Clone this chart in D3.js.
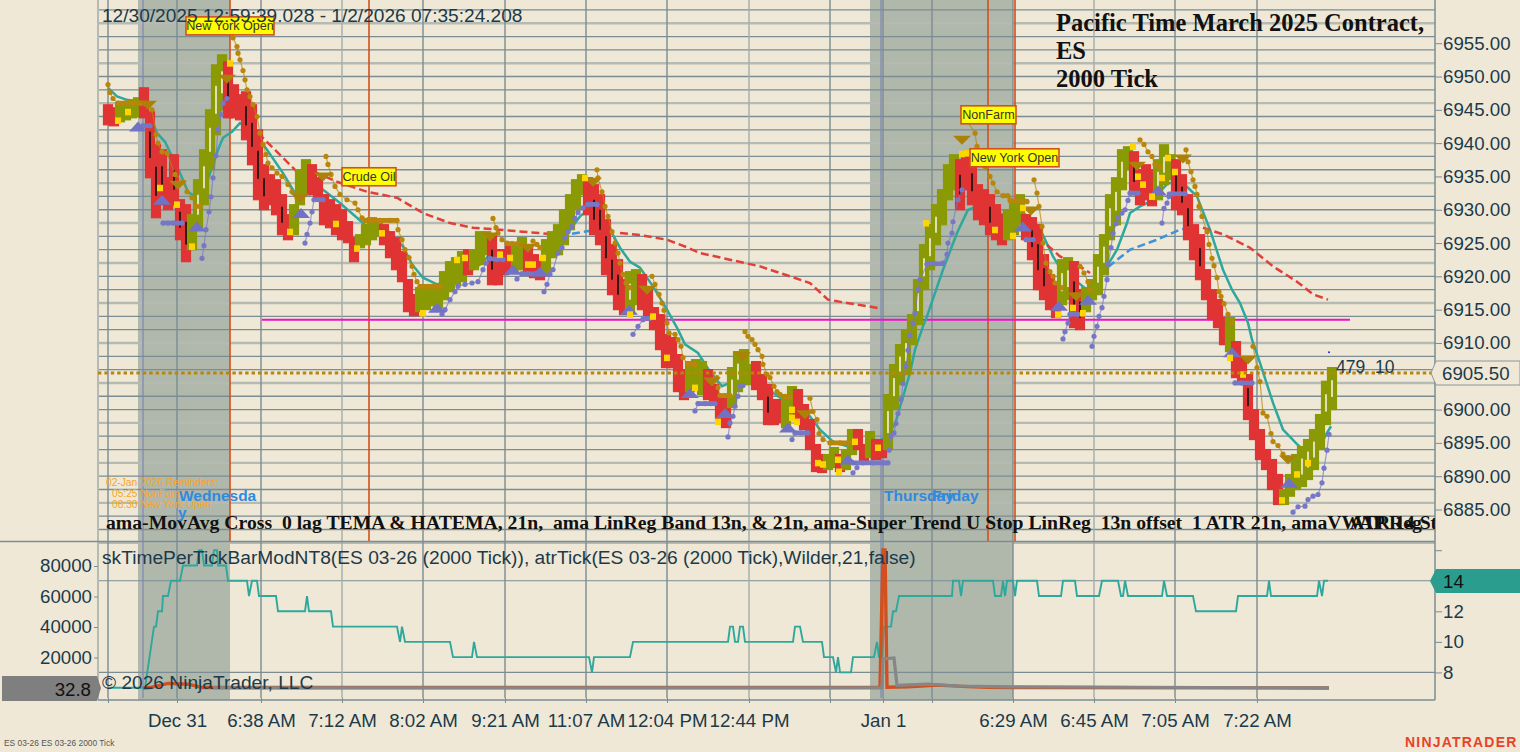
<!DOCTYPE html>
<html>
<head>
    <meta charset="utf-8">
    <style>
        html, body { margin: 0; padding: 0; background: #efe8d6; overflow: hidden; }
        svg { display: block; }
        text { font-family: "Liberation Sans", Arial, sans-serif; fill: #1c3a4a; }
        .serif { font-family: "Liberation Serif", serif; font-weight: bold; fill: #111; }
        .axis path { display: none; }
        .axis line { stroke: #7b8c93; }
        .axis text { font-size: 18.7px; fill: #1c3a4a; }
    </style>
    <script src="https://d3js.org/d3.v7.min.js"></script>
</head>
<body>
    <svg width="1520" height="752"></svg>
    <script>
        // x is measured in slots: one bar every 6 slots starting at 0
        var barHigh = [6945.75,6945.3,6946.05,6945.75,6946.5,6946.8,6948.3,6944.7,6939.75,6939,6934.8,6938.25,6931.5,6930.75,6929.25,6934.5,6939,6945,6951.75,6953.25,
            6952.2,6948.75,6947.25,6947.7,6945.75,6942,6936.75,6935.25,6934.5,6932.25,6929.25,6930.75,6936,6937.5,6936.75,6934.8,6932.25,6931.5,6930.75,6930,
            6928.2,6925.8,6926.25,6927.75,6928.8,6928.2,6927.75,6926.7,6925.8,6923.7,6919.5,6917.25,6918.3,6918.45,6918.75,6918.75,6920.7,6922.2,6922.8,6923.7,
            6924,6924,6926.7,6926.7,6926.25,6924,6924,6925.05,6924.75,6925.8,6924.3,6923.25,6922.2,6925.5,6926.7,6927.75,6930,6932.25,6934.5,6935.25,
            6934.8,6933.75,6932.25,6928.5,6924.75,6922.5,6919.5,6920.7,6921,6920.25,6918,6915.3,6914.25,6911.25,6910.8,6908.25,6906,6907.2,6907.5,6907.2,
            6906,6903.75,6902.25,6902.25,6906.3,6908.7,6909,6906.75,6907.2,6905.25,6903.75,6901.5,6901.5,6902.25,6903.45,6903,6900.75,6898.5,6894.75,6893.25,
            6893.25,6894.3,6893.25,6894,6897,6897,6894.75,6896.7,6895.5,6895.5,6902.25,6906.75,6909.75,6912,6914.25,6919.5,6924.75,6927.75,6930.75,6933,
            6936.75,6938.25,6937.5,6938.25,6937.5,6933.75,6933,6932.25,6930.75,6929.25,6930,6931.5,6932.25,6929.25,6928.8,6927.75,6923.25,6920.25,6918.75,6922.5,
            6922.8,6922.2,6918,6918.3,6919.5,6923.25,6926.25,6932.25,6934.8,6939,6939.45,6938.7,6936,6936.75,6936,6937.5,6939.75,6938.25,6937.5,6935.25,
            6932.25,6927.75,6926.25,6921,6918,6916.5,6913.8,6913.8,6910.2,6907.8,6905.25,6900,6897,6894,6892.5,6890.25,6888,6890.25,6893.25,6894.45,
            6895.5,6897,6899.25,6904.25,6906.3];
        var barLow = [6942.75,6942.6,6943.2,6943.5,6943.8,6943.95,6943.8,6934.8,6928.8,6930.75,6930,6930.75,6925.5,6922.2,6924,6927,6930.75,6936,6941.25,6945,
            6943.8,6943.8,6943.5,6940.5,6936.75,6931.5,6930,6930.75,6929.25,6926.25,6925.5,6926.25,6930.75,6932.25,6932.25,6931.5,6927.75,6927.3,6926.25,6925.5,
            6925.05,6922.2,6924.3,6924.75,6925.5,6926.1,6924.75,6922.8,6921,6919.2,6914.7,6914.1,6914.7,6915,6915.6,6915.3,6916.5,6917.7,6918.75,6919.2,
            6920.25,6921,6921.75,6923.25,6918.75,6918.75,6920.25,6921,6921,6921,6920.25,6919.8,6919.5,6920.25,6922.8,6923.25,6924.75,6927,6930,6932.25,
            6929.25,6926.25,6924.75,6920.25,6917.25,6915,6914.25,6914.7,6915.75,6915,6913.5,6912,6909,6906.3,6906.3,6902.7,6901.5,6902.7,6903,6902.25,
            6901.5,6900.75,6898.5,6897.3,6900.3,6902.7,6903.75,6903.75,6903,6901.5,6897.75,6897.75,6898.05,6897.3,6898.5,6898.5,6897,6894,6890.7,6890.55,
            6891,6891.3,6890.7,6891,6893.25,6894,6892.2,6892.8,6892.5,6892.8,6894,6900,6903.75,6905.25,6909.75,6912.75,6918,6921,6924.75,6927.75,
            6931.5,6933,6930,6933,6930.75,6928.5,6927.75,6926.25,6925.5,6924.75,6925.5,6926.25,6927.75,6925.5,6922.5,6918,6916.5,6915,6913.8,6915.75,
            6916.5,6912.3,6912,6914.7,6916.5,6917.25,6920.25,6925.5,6927.75,6933,6936,6932.25,6930.75,6931.5,6930.6,6931.5,6933.75,6934.5,6930,6929.25,
            6925.5,6922.5,6919.5,6916.5,6913.5,6912.3,6909.75,6908.7,6904.8,6903.75,6898.5,6895.5,6892.5,6891,6888,6885.75,6885.75,6887,6888,6888.45,
            6889.5,6891,6894,6897.75,6900];
        // first and last index of every run of up bars
        var upRuns = [[2,5],[14,19],[31,33],[42,45],[52,59],[61,63],[68,69],[73,79],[87,88],[97,99],[104,107],[113,114],[120,121],[123,124],[127,127],[130,141],[150,152],[159,160],[163,170],[175,177],[187,187],[196,204]];

        var goldDots = [
            [[0,6948.8],[2,6947.6],[5,6946.7],[10,6946],[17,6946],[24,6946],[32,6946],[39,6945.9],[44,6945],[48,6941.3],[50,6940],[54,6938.7],[59,6938.5],[67,6935.3],[75,6934.2],[79,6932.7],[84,6931.8],[88,6930.5],[92,6930.5]],
            [[125,6955.8],[129,6954.5],[130,6953.5],[132,6952.5],[135,6950.9],[137,6949.5],[139,6948],[142,6947],[145,6945.8],[149,6944],[152,6941.5],[155,6939.8],[158,6938.3],[160,6937],[164,6936.3],[169,6935.5],[174,6935],[180,6933.8],[184,6932.7],[189,6931.8],[194,6931.5]],
            [[218,6938],[220,6936.8],[223,6935.3],[227,6933.5],[232,6932.3],[239,6931.5],[247,6931],[250,6930],[254,6928.8],[257,6928.4],[264,6928.4],[272,6928.4],[282,6928.4],[289,6928.4],[290,6927],[294,6925.5],[297,6924],[301,6922.8],[304,6921.5],[306,6920.3],[309,6919.2],[312,6918.5],[320,6918.5],[332,6918.5]],
            [[385,6928.7],[388,6927.3],[390,6926.5],[394,6925.5],[399,6925],[404,6924.9],[410,6924.9],[414,6924.6]],
            [[425,6925.3],[429,6924.8],[432,6924.3]],
            [[489,6936],[490,6934.8],[494,6932.7],[497,6930.5],[500,6929],[504,6926.7],[507,6925],[510,6923.5],[512,6922],[515,6920.3],[518,6919],[522,6918.3]],
            [[544,6920],[547,6918.8],[551,6917.3],[554,6916],[556,6914.9],[559,6913],[561,6911.5],[567,6911.3],[570,6910.5],[573,6909.5],[575,6907.8],[580,6906.8],[587,6906.8]],
            [[609,6904.8],[610,6903.3],[612,6902.1],[617,6902.1],[622,6902.1]],
            [[637,6911.7],[640,6911],[644,6910.5],[647,6909.8],[650,6909],[654,6908],[655,6906.8],[659,6905.3],[662,6904.8],[666,6903.5],[669,6902.7],[672,6902.3],[677,6902],[682,6901.8]],
            [[702,6901.7],[705,6899.7],[709,6898.5],[711,6896.4],[715,6895.5],[722,6895],[732,6895],[742,6895]],
            [[859,6943.4],[867,6941.5],[869,6939.5],[872,6937.5],[877,6936.5],[882,6935],[885,6934],[889,6932.7],[895,6932.1],[900,6932.1],[902,6931.5],[910,6931.4],[919,6931.2]],
            [[926,6934.5],[929,6932.5],[931,6930.5],[934,6927.5],[935,6925],[938,6922],[942,6920.7],[945,6920],[947,6919],[954,6918.3]],
            [[972,6921.5],[976,6920.5],[980,6919.2],[982,6918]],
            [[1032,6940.5],[1036,6939.8],[1040,6938.7],[1044,6938],[1047,6936.8],[1052,6936.5]],
            [[1078,6939],[1080,6937.2],[1083,6935.7],[1085,6934.5],[1087,6933.5],[1089,6932.3],[1091,6930.5],[1094,6929],[1099,6926.7],[1101,6924.8],[1104,6922.7],[1106,6921.6],[1109,6919.8],[1111,6917.7],[1113,6917],[1116,6915.9],[1120,6914.3],[1124,6913]],
            [[1145,6909.5],[1149,6906.3],[1152,6904.2],[1155,6899.5],[1159,6899],[1163,6896.4],[1165,6895.2],[1170,6894.6],[1175,6893.3],[1180,6892.8]]
        ];
        var purpleDots = [
            [[35,6942.6],[42,6942.6]],
            [[55,6928],[60,6928],[65,6928],[70,6928],[74,6928]],
            [[94,6922.7],[96,6924.6],[98,6927],[101,6929.7],[103,6931.95],[105,6934.8],[108,6938.1],[110,6942],[113,6944.3],[115,6946],[119,6946.7]],
            [[197,6925],[199,6926.3],[202,6928],[204,6929.7],[206,6931.5],[211,6931.5],[215,6931.5]],
            [[334,6914.3],[337,6915],[342,6916.5],[347,6917.7],[350,6918.5],[357,6918.8],[364,6919],[370,6919.2],[375,6921],[378,6922],[382,6922.7],[389,6922.5],[395,6922.5]],
            [[409,6919.6],[414,6920.4],[420,6920.4],[428,6920.4]],
            [[436,6917.7],[439,6918.8],[442,6920.3],[445,6921],[450,6923.5],[454,6924.3],[457,6925.8],[460,6926.7],[464,6927.5],[467,6928.7],[470,6929.6],[475,6930.3],[480,6930.8],[489,6930.8]],
            [[525,6911.3],[530,6912.5],[535,6913.5],[542,6913.7]],
            [[587,6899.8],[590,6900.9],[597,6900.9],[603,6900.9],[607,6900.9]],
            [[620,6895.9],[622,6898],[625,6899],[627,6900.5],[630,6902],[632,6903.5],[635,6903.6]],
            [[684,6895.5],[687,6896.5],[693,6896.5],[700,6896.5]],
            [[745,6890.5],[749,6891.3]],
            [[745,6892],[755,6892],[765,6892],[775,6892],[780,6892]],
            [[781,6893.9],[783,6896],[786,6896.5],[788,6897.9],[790,6899.4],[793,6901.5],[795,6903.9],[798,6906.5],[800,6908.9],[802,6911.1],[805,6913],[807,6914.5],[810,6918],[812,6919.5],[819,6921.8],[827,6921.9],[835,6922],[839,6923.3],[840,6925],[844,6926.5],[845,6928.2],[850,6931.5],[854,6933]],
            [[918,6925.5],[925,6925.5]],
            [[955,6910.6],[957,6911.7],[960,6913],[962,6914.3],[970,6914.3]],
            [[984,6909.5],[986,6911],[989,6912.5],[991,6914],[994,6915.3],[996,6917],[999,6919.5],[1000,6921.8],[1003,6924.3],[1005,6926.5],[1008,6927.9],[1010,6928.8],[1014,6929.5],[1017,6930],[1020,6931.4],[1022,6932.5],[1030,6932.5]],
            [[1054,6928],[1056,6930.2],[1059,6931],[1061,6932],[1065,6932.4],[1072,6932.4],[1077,6932.4]],
            [[1127,6904],[1134,6904],[1144,6904]],
            [[1185,6884.6],[1190,6885.4],[1197,6885.5],[1200,6886.5],[1205,6887],[1210,6887.25],[1214,6889],[1216,6891.2],[1219,6893.9],[1221,6896.3]]
        ];
        // from, to, price of the flat stretches where the stop does not move
        var goldFlats = [[10,39,6946],[257,289,6928.4],[312,332,6918.5],[399,410,6924.9],[580,587,6906.8],[612,622,6902.1],[677,682,6901.9],[722,742,6895],[895,900,6932.1],[902,919,6931.3]];
        var purpleFlats = [[35,42,6942.6],[55,74,6928],[206,215,6931.5],[382,395,6922.6],[414,428,6920.4],[480,489,6930.8],[535,542,6913.7],[590,607,6900.9],[687,700,6896.5],[745,780,6892],[819,835,6921.9],[918,925,6925.5],[962,970,6914.3],[1022,1030,6932.5],[1061,1077,6932.4],[1127,1144,6904]];
        var goldTriangles = [[40,6945.75],[70,6933.75],[119,6949.65],[192,6931.8],[215,6935],[382,6926],[420,6924.3],[485,6934.2],[539,6918],[604,6904.2],[634,6908],[697,6899.3],[854,6940.5],[923,6929.9],[968,6917],[1029,6936.6],[1075,6937.7],[1140,6907.5],[1180,6892.5]];
        var purpleTriangles = [[30,6942.5],[54,6931.5],[89,6927.5],[193,6929.5],[329,6915.3],[405,6921],[432,6920.7],[521,6915],[582,6902.5],[617,6899.5],[680,6897.3],[740,6892.5],[915,6927.5],[951,6915.6],[980,6916.5],[1050,6932.9],[1124,6908.6],[1181,6889]];
        var yellowMarks = [[122,6952],[52,6933.3],[20,6944.7],[10,6943.4],[84,6924.5],[69,6930.8],[182,6926.7],[249,6924.2],[228,6927.9],[274,6926.5],[315,6914.5],[357,6922.8],[349,6922.5],[392,6923.3],[402,6922.8],[420,6921.8],[425,6921.8],[435,6922.8],[477,6934.8],[559,6907.8],[587,6903.3],[610,6898.2],[684,6900],[684,6898.8],[689,6898.2],[710,6892],[715,6891.8],[730,6892.5],[731,6890.7],[747,6895.2],[770,6894.3],[545,6914],[522,6914.3],[818,6928],[854,6938.4],[859,6938.5],[887,6927],[905,6926.1],[915,6930.3],[950,6914.3],[965,6915.3],[975,6914.5],[1025,6939.5],[1030,6935],[1035,6933.8],[1044,6932],[1054,6934.8],[1060,6937.8],[1067,6935.7],[1122,6907.8],[1135,6905.3],[1174,6886.4],[1189,6890.3],[1200,6892]];

        var tealLine = [[0,6948.3],[9,6947],[19,6946.5],[32,6946],[44,6943.5],[49,6941.5],[57,6940.2],[64,6938],[72,6935.5],[80,6932.7],[89,6931.8],[97,6933.3],[102,6935.5],[110,6939],[115,6940.8],[124,6941.7],[132,6943],[142,6942.3],[149,6941],[159,6939],[175,6935.5],[187,6932.5],[195,6932.5],[205,6933.3],[215,6933],[232,6931],[259,6927.5],[272,6927.5],[282,6926.5],[295,6924.5],[304,6921.8],[315,6919.8],[329,6918.8],[337,6919.2],[347,6920],[362,6920.7],[374,6922],[380,6923],[395,6922.5],[405,6923],[415,6923],[429,6922],[439,6922.5],[452,6924.5],[462,6927],[472,6929],[482,6930.2],[490,6929.3],[502,6927],[512,6924.3],[522,6922.2],[532,6921.3],[545,6918.5],[559,6915],[570,6912],[577,6909.8],[590,6908.5],[602,6905.7],[614,6903.5],[622,6904],[635,6904.8],[652,6904.8],[665,6902.5],[682,6900.8],[694,6900.5],[712,6897],[725,6895.2],[739,6894.5],[752,6894.5],[765,6894.8],[777,6895.8],[787,6897.8],[802,6905.5],[807,6909],[815,6912.5],[819,6914],[835,6921],[849,6926.5],[860,6930],[870,6930.5],[887,6929.7],[899,6929],[907,6928.8],[915,6929.5],[925,6928.5],[934,6926.5],[945,6923],[952,6921.3],[960,6921],[969,6919.2],[979,6918],[985,6918],[997,6921],[1009,6924],[1019,6928],[1022,6929.5],[1032,6930.5],[1042,6931.2],[1052,6932.7],[1060,6934],[1075,6934],[1082,6933],[1089,6932],[1102,6927],[1115,6921],[1124,6918],[1132,6916],[1140,6913],[1144,6910.5],[1152,6907],[1165,6901],[1175,6897],[1189,6894.8],[1199,6893.5],[1207,6893.2],[1219,6896.5],[1223,6897.5]];
        var redDashed = [
            [[150,6941.5],[169,6938.7],[189,6935.7],[209,6935.5],[229,6934.2],[259,6932.7],[289,6931.8],[315,6929.5],[342,6928],[365,6927.3],[392,6927],[415,6926.7],[439,6926.4]],
            [[512,6926.5],[532,6926.2],[559,6925.5],[580,6924.3],[592,6923.5],[652,6921.5],[702,6919],[720,6916.5],[739,6916],[752,6915.7],[772,6915.2]],
            [[939,6924.7],[952,6923],[972,6921.5],[982,6920.5]],
            [[1095,6927.3],[1115,6926.3],[1142,6924.3],[1165,6921.5],[1189,6919.2],[1205,6917.3],[1220,6916.5]]
        ];
        var blueDashed = [
            [[464,6926.4],[489,6927]],
            [[1000,6921.4],[1022,6924],[1049,6925.5],[1072,6927],[1084,6927.4]]
        ];
        var magentaLine = [[154,6913.5],[1242,6913.5]];
        var lastPrice = 6905.5;

        var atrValues = [[0,7],[37,7],[46,11],[48,11],[50,12],[54,12],[55,13],[60,13],[63,14],[72,14],[75,15],[89,15],[91,16],[94,16],[96,15],[104,15],[106,16],[109,16],[110,15],[118,15],[120,14],[139,14],[141,13],[144,14],[149,14],[151,13],[168,13],[170,12],[197,12],[199,13],[201,12],[223,12],[225,11],[289,11],[292,10],[294,11],[297,10],[342,10],[345,9],[364,9],[366,10],[369,9],[481,9],[484,8],[486,9],[522,9],[525,10],[620,10],[622,11],[625,11],[627,10],[630,10],[632,11],[635,11],[637,10],[685,10],[687,11],[692,11],[695,10],[714,10],[716,9],[725,9],[728,8],[730,9],[732,8],[743,8],[745,9],[766,9],[769,10],[771,9],[774,9],[776,11],[783,11],[785,12],[788,12],[791,13],[844,13],[845,14],[851,14],[853,13],[855,14],[885,14],[887,13],[893,13],[895,14],[897,13],[899,14],[905,14],[907,13],[909,14],[929,14],[931,13],[953,13],[955,14],[967,14],[969,13],[991,13],[994,14],[1010,14],[1013,13],[1015,13],[1017,14],[1020,13],[1054,13],[1056,14],[1059,13],[1085,13],[1088,12],[1128,12],[1130,13],[1159,13],[1161,14],[1163,13],[1209,13],[1211,14],[1214,13],[1216,14],[1220,14]];
        var timePerTick = [[35,32],[42,300],[60,3000],[80,2500],[95,300],[772,300],[775,90500],[777,90500],[779,500],[800,800],[830,1900],[860,900],[880,500],[905,300],[1221,33]];
        var greyValues = [[105,32],[700,60],[774,300],[775,19000],[786,19700],[789,1800],[820,2600],[850,1300],[900,800],[1221,33]];

        var priceTicks = [6885,6890,6895,6900,6905,6910,6915,6920,6925,6930,6935,6940,6945,6950,6955];
        var gridPrices = d3.range(6880, 6962, 2);
        var tickSlots = [0,69,153,234,315,397,478,559,641,722,775,824,905,986,1067,1149];
        var tickLabels = ["","Dec 31","6:38 AM","7:12 AM","8:02 AM","9:21 AM","11:07 AM","12:04 PM","12:44 PM","","Jan 1","","6:29 AM","6:45 AM","7:05 AM","7:22 AM"];
        var lightSlots = [234,641,986];
        var sessionBands = [[30,122],[762,905]];
        var sessionStarts = [35,773];
        var eventSlots = [122,261,880,907];
        var eventBoxes = [
            {label:"New York Open", slot:78, price:6958.95, w:88},
            {label:"Crude Oil", slot:234, price:6936.3, w:54},
            {label:"NonFarm", slot:853, price:6945.6, w:55},
            {label:"New York Open", slot:862, price:6939.15, w:89}
        ];

        var svg = d3.select("svg");
        var colGrid = "#7b8c93", colLight = "#b5bab2", colAxis = "#1c3a4a";

        var x = d3.scaleLinear().domain([0,1327]).range([108,1435]);
        var y = d3.scaleLinear().domain([6885,6955]).range([509.5,43.2]);
        var yTime = d3.scaleLinear().domain([0,80000]).range([688,566]);
        var yAtr = d3.scaleLinear().domain([7,16]).range([687.7,550.2]);

        var isUp = function(i) { return upRuns.some(function(r) { return i >= r[0] && i <= r[1]; }); };
        var lineP = d3.line().x(function(d) { return x(d[0]); }).y(function(d) { return y(d[1]); });

        // session shading behind everything
        svg.selectAll(".band").data(sessionBands).enter().append("rect")
            .attr("x", function(d) { return x(d[0]); })
            .attr("width", function(d) { return x(d[1]) - x(d[0]); })
            .attr("y", 0).attr("height", 700)
            .attr("fill", "#b0b8ac");

        // price grid
        svg.selectAll(".hgrid").data(gridPrices).enter().append("line")
            .attr("x1", 98).attr("x2", 1435)
            .attr("y1", function(d) { return y(d); }).attr("y2", function(d) { return y(d); })
            .attr("stroke", function(d) { return (d - 6880) % 6 == 0 ? colLight : colGrid; })
            .attr("stroke-width", function(d) { return (d - 6880) % 6 == 0 ? 2.4 : 1.3; });

        // lower panel grid
        svg.selectAll(".hgrid2").data([14,8]).enter().append("line")
            .attr("x1", 98).attr("x2", 1435)
            .attr("y1", function(d) { return yAtr(d); }).attr("y2", function(d) { return yAtr(d); })
            .attr("stroke", colGrid).attr("stroke-width", 1.2);

        // time grid
        svg.selectAll(".vgrid").data(tickSlots).enter().append("line")
            .attr("x1", function(d) { return x(d); }).attr("x2", function(d) { return x(d); })
            .attr("y1", 0).attr("y2", 698)
            .attr("stroke", function(d) { return lightSlots.indexOf(d) >= 0 ? "#a3aeab" : colGrid; })
            .attr("stroke-width", 1.4);
        svg.selectAll(".vstart").data(sessionStarts).enter().append("line")
            .attr("x1", function(d) { return x(d); }).attr("x2", function(d) { return x(d); })
            .attr("y1", 0).attr("y2", 698)
            .attr("stroke", "#7a80b8").attr("stroke-width", 1.1);

        // frame
        svg.append("line").attr("x1", 98).attr("x2", 98).attr("y1", 0).attr("y2", 700).attr("stroke", colLight).attr("stroke-width", 2);
        svg.append("line").attr("x1", 1435).attr("x2", 1435).attr("y1", 0).attr("y2", 700).attr("stroke", colGrid).attr("stroke-width", 1.5);
        svg.append("line").attr("x1", 0).attr("x2", 1435).attr("y1", 541.5).attr("y2", 541.5).attr("stroke", colGrid).attr("stroke-width", 1.3);
        svg.append("line").attr("x1", 98).attr("x2", 1435).attr("y1", 700).attr("y2", 700).attr("stroke", colGrid).attr("stroke-width", 1.3);

        // event lines
        svg.selectAll(".event").data(eventSlots).enter().append("line")
            .attr("x1", function(d) { return x(d); }).attr("x2", function(d) { return x(d); })
            .attr("y1", 0).attr("y2", 541)
            .attr("stroke", "#d2501e").attr("stroke-width", 1.6);

        svg.append("path").datum(magentaLine).attr("d", lineP).attr("fill", "none").attr("stroke", "#ee11cc").attr("stroke-width", 2);

        // moving averages sit behind the bars
        svg.append("path").datum(tealLine).attr("d", lineP).attr("fill", "none").attr("stroke", "#2ea89c").attr("stroke-width", 2.5);
        svg.selectAll(".red-dash").data(redDashed).enter().append("path")
            .attr("d", lineP).attr("fill", "none").attr("stroke", "#e0403a").attr("stroke-width", 2.5).attr("stroke-dasharray", "8,4");
        svg.selectAll(".blue-dash").data(blueDashed).enter().append("path")
            .attr("d", lineP).attr("fill", "none").attr("stroke", "#3f94d8").attr("stroke-width", 2.5).attr("stroke-dasharray", "8,4");

        // bars
        var bars = d3.range(barHigh.length);
        svg.selectAll(".bar").data(bars).enter().append("rect")
            .attr("x", function(i) { return x(i * 6) - 4.5; })
            .attr("width", 9)
            .attr("y", function(i) { return y(barHigh[i]); })
            .attr("height", function(i) { return y(barLow[i]) - y(barHigh[i]); })
            .attr("fill", function(i) { return isUp(i) ? "#8a9a05" : "#e03333"; })
            .attr("stroke", function(i) { return isUp(i) ? "#8a9a05" : "#e03333"; })
            .attr("stroke-width", 1.2);
        // candle bodies showing inside the tall bars
        svg.selectAll(".body").data(bars.filter(function(i) { return barHigh[i] - barLow[i] >= 6; })).enter().append("rect")
            .attr("x", function(i) { return x(i * 6) - 0.8; })
            .attr("width", 1.6)
            .attr("y", function(i) { return y(barHigh[i] - (barHigh[i] - barLow[i]) * 0.3); })
            .attr("height", function(i) { return (y(barLow[i]) - y(barHigh[i])) * 0.4; })
            .attr("fill", function(i) { return isUp(i) ? "#f4f2e0" : "#111"; });

        // stop dots, one chain per leg
        function drawStops(legs, flats, color) {
            var g = svg.append("g");
            g.selectAll("path").data(legs).enter().append("path")
                .attr("d", lineP).attr("fill", "none").attr("stroke", color).attr("stroke-width", 1.2).attr("opacity", 0.7);
            g.selectAll(".flat").data(flats).enter().append("line")
                .attr("x1", function(d) { return x(d[0]); }).attr("x2", function(d) { return x(d[1]); })
                .attr("y1", function(d) { return y(d[2]); }).attr("y2", function(d) { return y(d[2]); })
                .attr("stroke", color).attr("stroke-width", 4.6).attr("stroke-linecap", "round");
            g.selectAll("circle").data(d3.merge(legs)).enter().append("circle")
                .attr("cx", function(d) { return x(d[0]); }).attr("cy", function(d) { return y(d[1]); })
                .attr("r", 2.6).attr("fill", color);
        }
        drawStops(goldDots, goldFlats, "#b8860b");
        drawStops(purpleDots, purpleFlats, "#7777c8");

        svg.selectAll(".tri-gold").data(goldTriangles).enter().append("path")
            .attr("d", "M-9,-4L9,-4L0,5Z")
            .attr("transform", function(d) { return "translate(" + x(d[0]) + "," + y(d[1]) + ")"; })
            .attr("fill", "#aa8208");
        svg.selectAll(".tri-purple").data(purpleTriangles).enter().append("path")
            .attr("d", "M-9,5L9,5L0,-5Z")
            .attr("transform", function(d) { return "translate(" + x(d[0]) + "," + y(d[1]) + ")"; })
            .attr("fill", "#7272c4");
        svg.selectAll(".mark").data(yellowMarks).enter().append("rect")
            .attr("x", function(d) { return x(d[0]) - 3; }).attr("y", function(d) { return y(d[1]) - 3; })
            .attr("width", 6).attr("height", 6.5).attr("fill", "#ffd500");

        // last price line
        svg.append("line").attr("x1", 98).attr("x2", 1435)
            .attr("y1", y(lastPrice)).attr("y2", y(lastPrice))
            .attr("stroke", "#b8860b").attr("stroke-width", 3).attr("stroke-dasharray", "3.4,3");
        svg.append("circle").attr("cx", x(1221)).attr("cy", y(6908.6)).attr("r", 1).attr("fill", "#2222dd");
        svg.append("text").attr("x", 1336).attr("y", 373).style("font-size", "17.5px").attr("xml:space", "preserve").text("479  10");

        // lower panel lines
        var lineAtr = d3.line().x(function(d) { return x(d[0]); }).y(function(d) { return yAtr(d[1]); });
        var lineTime = d3.line().x(function(d) { return x(d[0]); }).y(function(d) { return yTime(d[1]); });
        svg.append("path").datum(atrValues).attr("d", lineAtr).attr("fill", "none").attr("stroke", "#2ea89c").attr("stroke-width", 1.9);
        svg.append("path").datum(timePerTick).attr("d", lineTime).attr("fill", "none").attr("stroke", "#d2501e").attr("stroke-width", 3.4);
        svg.append("path").datum(greyValues).attr("d", lineTime).attr("fill", "none").attr("stroke", "#868686").attr("stroke-width", 3.2);

        // axes
        var axisX = d3.axisBottom(x).tickValues(tickSlots).tickSize(5).tickPadding(11)
            .tickFormat(function(d, i) { return tickLabels[i]; });
        svg.append("g").attr("class", "axis").attr("transform", "translate(0,698)").call(axisX);
        var axisP = d3.axisRight(y).tickValues(priceTicks).tickSize(7).tickPadding(1).tickFormat(d3.format(".2f"));
        svg.append("g").attr("class", "axis").attr("transform", "translate(1435,0)").call(axisP);
        var axisA = d3.axisRight(yAtr).tickValues([8,10,12,14,16]).tickSize(7).tickPadding(1).tickFormat(function(d) { return d == 16 ? "" : d; });
        svg.append("g").attr("class", "axis").attr("transform", "translate(1435,0)").call(axisA);
        var axisT = d3.axisLeft(yTime).tickValues([20000,40000,60000,80000]).tickSize(4).tickPadding(2).tickFormat(d3.format("d"));
        svg.append("g").attr("class", "axis").attr("transform", "translate(98,0)").call(axisT);

        // value tags
        svg.append("path").attr("d", "M1436,361L1520,361L1520,385L1436,385L1431,373Z").attr("fill", "#efe8d6").attr("stroke", "#8b979a");
        svg.append("text").attr("x", 1442).attr("y", 380).style("font-size", "18.7px").text("6905.50");
        svg.append("path").attr("d", "M1436,569L1520,569L1520,593L1436,593L1430,581Z").attr("fill", "#2a9d8f");
        svg.append("text").attr("x", 1443).attr("y", 588).style("font-size", "18.7px").style("fill", "#111").text("14");
        svg.append("path").attr("d", "M2,676L97,676L101,688L97,701L2,701Z").attr("fill", "#7f7f7f");
        svg.append("text").attr("x", 91).attr("y", 696).attr("text-anchor", "end").style("font-size", "18.7px").style("fill", "#111").text("32.8");

        // event labels
        var boxes = svg.selectAll(".ev").data(eventBoxes).enter().append("g")
            .attr("transform", function(d) { return "translate(" + x(d.slot) + "," + y(d.price) + ")"; });
        boxes.append("rect").attr("width", function(d) { return d.w; }).attr("height", 18)
            .attr("fill", "#ffff00").attr("stroke", "#d2501e").attr("stroke-width", 1.6);
        boxes.append("text").attr("x", function(d) { return d.w / 2; }).attr("y", 13.5).attr("text-anchor", "middle")
            .style("font-size", "12.6px").style("fill", "#333").text(function(d) { return d.label; });

        // texts
        svg.append("text").attr("x", 102).attr("y", 21.5).style("font-size", "19.1px").text("12/30/2025 12:59:39.028 - 1/2/2026 07:35:24.208");
        var titleLines = ["Pacific Time March 2025 Contract,", "ES", "2000 Tick"];
        svg.selectAll(".title").data(titleLines).enter().append("text").attr("class", "serif")
            .attr("x", 1056).attr("y", function(d, i) { return 31 + i * 28; })
            .style("font-size", "24.5px").text(function(d) { return d; });

        var clip = svg.append("defs").append("clipPath").attr("id", "panel");
        clip.append("rect").attr("x", 0).attr("y", 0).attr("width", 1435).attr("height", 541);
        var notes = svg.append("g").attr("clip-path", "url(#panel)");
        notes.append("text").attr("class", "serif").attr("x", 106).attr("y", 528.5).style("font-size", "19.7px").attr("xml:space", "preserve")
            .text("ama-MovAvg Cross  0 lag TEMA & HATEMA, 21n,  ama LinReg Band 13n, & 21n, ama-Super Trend U Stop LinReg  13n offset  1 ATR 21n, amaVWAP Reg");
        notes.append("text").attr("class", "serif").attr("x", 1350).attr("y", 528.5).style("font-size", "19.7px").attr("xml:space", "preserve").text("ATR 14 Stop");

        var reminders = [["02-Jan-2026 Reminders:",106,486],["05:25 NonFarm",112,497],["08:30 New York Open",112,508]];
        svg.selectAll(".rem").data(reminders).enter().append("text")
            .attr("x", function(d) { return d[1]; }).attr("y", function(d) { return d[2]; })
            .style("font-size", "10.2px").style("fill", "#f5a52a").text(function(d) { return d[0]; });
        var days = [["Wednesda",179,501],["Thursday",884,501],["Friday",932,501]];
        svg.selectAll(".day").data(days).enter().append("text")
            .attr("x", function(d) { return d[1]; }).attr("y", function(d) { return d[2]; })
            .style("font-size", "15.5px").style("font-weight", "bold").style("fill", "#2f8ae0").text(function(d) { return d[0]; });
        svg.append("text").attr("x", 178).attr("y", 518).style("font-size", "15.5px").style("font-weight", "bold").style("fill", "#2f8ae0").text("y");

        svg.append("text").attr("x", 102).attr("y", 563.5).style("font-size", "19.2px")
            .text("skTimePerTickBarModNT8(ES 03-26 (2000 Tick)), atrTick(ES 03-26 (2000 Tick),Wilder,21,false)");
        svg.append("text").attr("x", 102).attr("y", 689).style("font-size", "19.15px").text("\u00a9 2026 NinjaTrader, LLC");
        svg.append("text").attr("x", 4).attr("y", 746).style("font-size", "8.4px").style("fill", "#555").text("ES 03-26 ES 03-26 2000 Tick");
        svg.append("text").attr("x", 1405).attr("y", 747).style("font-size", "14px").style("font-weight", "bold").style("fill", "#e8432a").style("letter-spacing", "1.2px").text("NINJATRADER");
    </script>
</body>
</html>
